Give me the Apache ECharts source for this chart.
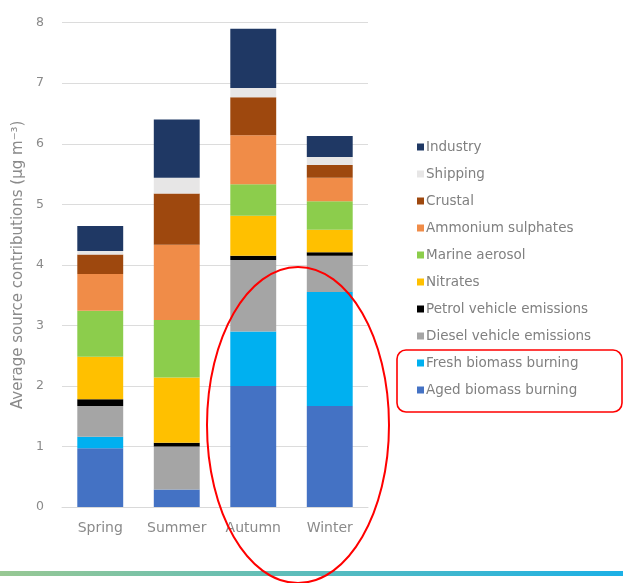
<!DOCTYPE html>
<html>
<head>
<meta charset="utf-8">
<script src="https://cdn.jsdelivr.net/npm/echarts@6/dist/echarts.min.js"></script>
<style>
html,body{margin:0;padding:0;background:#fff;}
#chart{width:623px;height:583px;}
</style>
</head>
<body>
<div id="chart"></div>
<script>
const categories = ['Spring', 'Summer', 'Autumn', 'Winter'];
const yTicks = [0, 1, 2, 3, 4, 5, 6, 7, 8];

const agedBiomass = [0.97, 0.29, 2.00, 1.67];
const freshBiomass = [0.19, 0.00, 0.90, 1.88];
const dieselVehicle = [0.51, 0.71, 1.18, 0.60];
const petrolVehicle = [0.11, 0.06, 0.07, 0.06];
const nitrates = [0.70, 1.08, 0.66, 0.37];
const marineAerosol = [0.76, 0.95, 0.52, 0.47];
const ammoniumSulphates = [0.61, 1.24, 0.81, 0.39];
const crustal = [0.32, 0.85, 0.63, 0.21];
const shipping = [0.06, 0.26, 0.15, 0.13];
const industry = [0.41, 0.96, 0.98, 0.35];

const seriesDefs = [
  ['Aged biomass burning', agedBiomass, '#4472c4'],
  ['Fresh biomass burning', freshBiomass, '#00b0f0'],
  ['Diesel vehicle emissions', dieselVehicle, '#a5a5a5'],
  ['Petrol vehicle emissions', petrolVehicle, '#000000'],
  ['Nitrates', nitrates, '#ffc000'],
  ['Marine aerosol', marineAerosol, '#8ccd4c'],
  ['Ammonium sulphates', ammoniumSulphates, '#f08c48'],
  ['Crustal', crustal, '#9e480e'],
  ['Shipping', shipping, '#e7e6e6'],
  ['Industry', industry, '#1f3864']
];

const chart = echarts.init(document.getElementById('chart'), null, {renderer: 'canvas'});
const font = 'DejaVu Sans';

chart.setOption({
  backgroundColor: '#ffffff',
  animation: false,
  textStyle: {fontFamily: font},
  grid: {left: 62, right: 255, top: 22.7, bottom: 76, containLabel: false},
  legend: {
    orient: 'vertical',
    left: 412,
    top: 134,
    itemWidth: 7,
    itemHeight: 7,
    itemGap: 11,
    icon: 'rect',
    data: seriesDefs.map(d => d[0]).reverse(),
    textStyle: {color: '#808080', fontSize: 13.5, fontFamily: font, lineHeight: 16, padding: [0, 0, 0, -3]}
  },
  xAxis: {
    type: 'category',
    data: categories,
    axisLine: {lineStyle: {color: '#d9d9d9'}},
    axisTick: {show: false},
    axisLabel: {color: '#8a8a8a', fontSize: 14, margin: 14, fontFamily: font, interval: 0, hideOverlap: false}
  },
  yAxis: {
    type: 'value',
    min: yTicks[0],
    max: yTicks[yTicks.length - 1],
    interval: 1,
    name: 'Average source contributions (µg m⁻³)',
    nameLocation: 'middle',
    nameGap: 36,
    nameTextStyle: {color: '#8a8a8a', fontSize: 15, fontFamily: font},
    axisLine: {show: false},
    axisTick: {show: false},
    splitLine: {lineStyle: {color: '#dcdcdc'}},
    axisLabel: {color: '#8a8a8a', fontSize: 12.5, margin: 18, fontFamily: font}
  },
  series: seriesDefs.map(d => ({
    name: d[0],
    type: 'bar',
    stack: 'total',
    barWidth: '60%',
    data: d[1],
    itemStyle: {color: d[2]}
  })),
  graphic: [
    {
      type: 'rect',
      left: 0, top: 571,
      shape: {width: 623, height: 5},
      style: {
        fill: new echarts.graphic.LinearGradient(0, 0, 1, 0, [
          {offset: 0, color: '#98c893'},
          {offset: 1, color: '#1cb0e6'}
        ])
      },
      z: 10
    },
    {
      type: 'ellipse',
      shape: {cx: 298, cy: 425, rx: 91, ry: 158},
      style: {fill: 'none', stroke: '#ff0000', lineWidth: 2},
      z: 20
    },
    {
      type: 'rect',
      shape: {x: 397, y: 350, width: 225, height: 62, r: 9},
      style: {fill: 'none', stroke: '#ff0000', lineWidth: 1.6},
      z: 20
    }
  ]
});
</script>
</body>
</html>
